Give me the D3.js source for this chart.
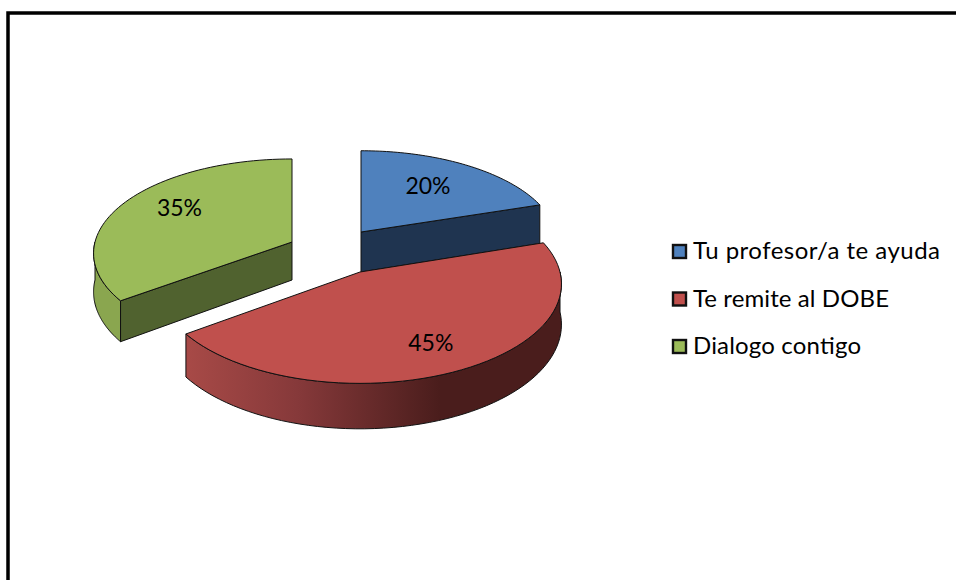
<!DOCTYPE html>
<meta charset="utf-8">
<title>Pie 3D</title>
<style>
body {
  margin: 0px;
  background: #fff;
}
svg {
  display: block;
  font-family: Lato, sans-serif;
}
</style>
<body>
<script src="https://d3js.org/d3.v7.min.js"></script>
<script>

var categories = ["Tu profesor/a te ayuda", "Te remite al DOBE", "Dialogo contigo"];
var percents = [20, 45, 35];
var topColors = ["#4f81bd", "#c0504d", "#9bbb59"];
var faceColors = ["#1f3450", "#4a1d1c", "#50622f"];

var width = 956, height = 580;

// the pie is a disc seen in perspective, every slice is pulled away from the middle
var radii = [195, 200, 197], squashes = [91, 98, 93];
var depths = [40, 40, 38], persp = 0.12;
var apexes = [[361, 232], [360, 272], [292, 242]];
var labelFrac = [0.6, 0.72, 0.64];
var labelNudge = [[2, -4], [0, 3], [-4, -8]];
var legendWidths = [247, 196, 168];

var svg = d3.select("body").append("svg")
  .attr("width", width)
  .attr("height", height);

// frame
svg.append("path")
  .attr("d", d3.line()([[8, height], [8, 13], [width, 13]]))
  .attr("fill", "none")
  .attr("stroke", "#000")
  .attr("stroke-width", 3.5);

var defs = svg.append("defs");
var grad = defs.append("linearGradient")
  .attr("id", "redside")
  .attr("gradientUnits", "userSpaceOnUse")
  .attr("x1", 185).attr("x2", 560).attr("y1", 0).attr("y2", 0);
grad.selectAll("stop")
  .data([[0, "#a84a47"], [0.3, "#86393a"], [0.68, "#4a1d1c"], [1, "#4a1d1c"]])
  .enter().append("stop")
  .attr("offset", function(d) { return d[0]; })
  .attr("stop-color", function(d) { return d[1]; });

var pie = d3.pie().sort(null).value(function(d) { return d; })
  .startAngle(0).endAngle(2 * Math.PI);
var arcs = pie(percents);

function project(i, angle, frac, z) {
  var u = Math.sin(angle) * frac, v = -Math.cos(angle) * frac;
  var s = 1 / (1 - persp * v);
  return [apexes[i][0] + radii[i] * u * s,
          apexes[i][1] + squashes[i] * v * s + z * (persp * v * s + 1) * depths[i]];
}

function rim(i, a0, a1, z) {
  return d3.range(0, 61).map(function(k) {
    return project(i, a0 + (a1 - a0) * k / 60, 1, z);
  });
}

var line = d3.line();
var order = [2, 0, 1];

var slices = svg.selectAll("g.slice")
  .data(order)
  .enter().append("g")
  .attr("class", "slice")
  .attr("stroke", "#111")
  .attr("stroke-width", 1)
  .attr("stroke-linejoin", "round");

slices.each(function(i) {
  var g = d3.select(this), a = arcs[i];
  var apexTop = project(i, 0, 0, 0), apexBot = project(i, 0, 0, 1);

  // cut face toward the viewer
  var cutAngle = i == 0 ? a.endAngle : a.startAngle;
  if (i != 1) {
    g.append("path")
      .attr("fill", faceColors[i])
      .attr("d", line([apexTop, project(i, cutAngle, 1, 0), project(i, cutAngle, 1, 1), apexBot]) + "Z");
  }

  // outer wall, only where the rim faces front
  var from = Math.max(a.startAngle, Math.PI / 2), to = Math.min(a.endAngle, Math.PI * 1.5);
  if (from < to) {
    g.append("path")
      .attr("fill", i == 1 ? "url(#redside)" : "#8aa64f")
      .attr("d", line(rim(i, from, to, 0).concat(rim(i, from, to, 1).reverse())) + "Z");
  }

  // top
  g.append("path")
    .attr("fill", topColors[i])
    .attr("d", line([apexTop].concat(rim(i, a.startAngle, a.endAngle, 0))) + "Z");
});

// percent labels
svg.selectAll("text.pct")
  .data(arcs)
  .enter().append("text")
  .attr("class", "pct")
  .attr("text-anchor", "middle")
  .attr("dy", "0.35em")
  .attr("font-size", 23)
  .attr("fill", "#000")
  .attr("x", function(d, i) {
    return project(i, (d.startAngle + d.endAngle) / 2, labelFrac[i], 0)[0] + labelNudge[i][0];
  })
  .attr("y", function(d, i) {
    return project(i, (d.startAngle + d.endAngle) / 2, labelFrac[i], 0)[1] + labelNudge[i][1];
  })
  .text(function(d) { return d.data + "%"; });

// legend
var legendY = d3.scalePoint().domain(categories).range([251, 346]);
var legend = svg.selectAll("g.legend")
  .data(categories)
  .enter().append("g")
  .attr("class", "legend")
  .attr("transform", function(d) { return "translate(672," + legendY(d) + ")"; });

legend.append("rect")
  .attr("x", 1).attr("y", -6)
  .attr("width", 13).attr("height", 13)
  .attr("fill", function(d, i) { return topColors[i]; })
  .attr("stroke", "#111")
  .attr("stroke-width", 2.4);

legend.append("text")
  .attr("x", 21)
  .attr("dy", "0.35em")
  .attr("font-size", 24)
  .attr("textLength", function(d, i) { return legendWidths[i]; })
  .attr("fill", "#000")
  .text(function(d) { return d; });

</script>
</body>
